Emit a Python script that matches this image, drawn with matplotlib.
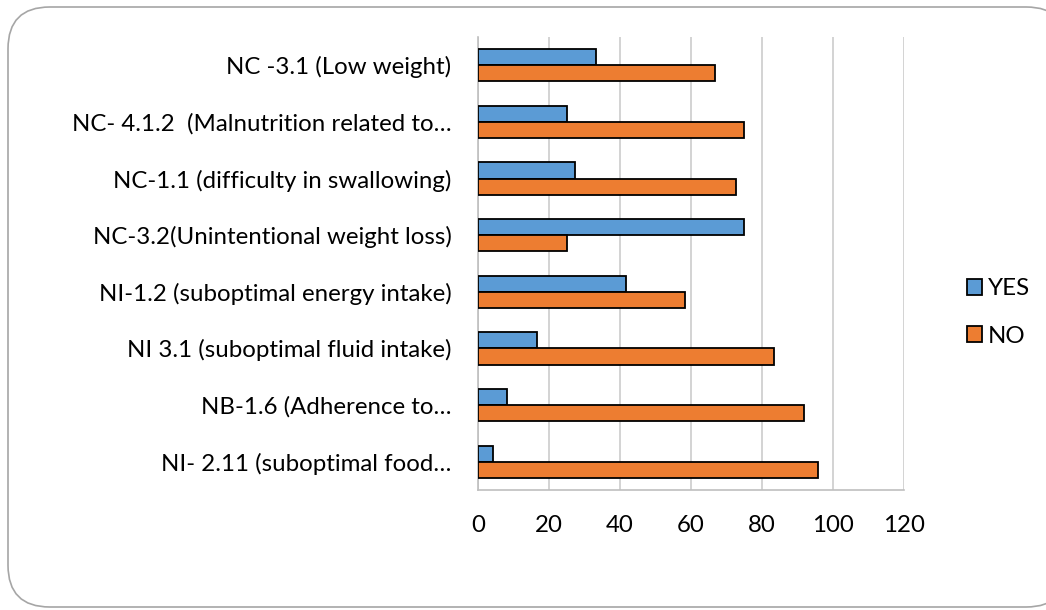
import numpy as np
import matplotlib
matplotlib.use('Agg')
import matplotlib.pyplot as plt
from matplotlib.patches import FancyBboxPatch

# categories, top to bottom as in the chart
categories = ['NC -3.1 (Low weight)',
              'NC- 4.1.2  (Malnutrition related to\u2026',
              'NC-1.1 (difficulty in swallowing)',
              'NC-3.2(Unintentional weight loss)',
              'NI-1.2 (suboptimal energy intake)',
              'NI 3.1 (suboptimal fluid intake)',
              'NB-1.6 (Adherence to\u2026',
              'NI- 2.11 (suboptimal food\u2026']
yes_vals = [33.3, 25.0, 27.3, 75.0, 41.7, 16.7, 8.3, 4.2]
no_vals = [66.7, 75.0, 72.7, 25.0, 58.3, 83.3, 91.7, 95.8]
x_ticks = [0, 20, 40, 60, 80, 100, 120]

plt.rcParams['font.family'] = ['Lato', 'DejaVu Sans']
FS = 17.3

W, H = 1046, 610
fig = plt.figure(figsize=(W/100, H/100), dpi=100)
# rounded outer border (runs off the right edge in the original)
border = FancyBboxPatch((8/W, 1 - 607/H), 1060/W, 600/H, boxstyle='round,pad=0,rounding_size=0.04',
                        transform=fig.transFigure, facecolor='white', edgecolor='#a6a6a6',
                        linewidth=1.2, mutation_aspect=W/H, zorder=-5)
fig.add_artist(border)

ax = fig.add_axes([478/W, 1 - 490/H, (904-478)/W, (490-37)/H])
ax.set_zorder(2)
ax.set_facecolor('none')

n = len(categories)
pos = np.arange(n)[::-1]
h = 0.285
ax.barh(pos + h/2, yes_vals, height=h, color='#5b9bd5', edgecolor='black', linewidth=1.3, label='YES', zorder=3)
ax.barh(pos - h/2, no_vals, height=h, color='#ed7d31', edgecolor='black', linewidth=1.3, label='NO', zorder=3)

ax.set_xlim(0, 120)
ax.set_ylim(-0.5, n - 0.5)
ax.set_xticks(x_ticks)
ax.set_yticks(pos)
ax.set_yticklabels(categories)
ax.tick_params(axis='both', length=0, labelsize=FS)
ax.tick_params(axis='x', pad=18)
ax.tick_params(axis='y', pad=19)
ax.grid(axis='x', color='#d0d0d0', linewidth=1.3, zorder=0)
for s in ['top', 'right']:
    ax.spines[s].set_visible(False)
ax.spines['left'].set_color('#bfbfbf')
ax.spines['bottom'].set_color('#bfbfbf')
ax.spines['left'].set_linewidth(1.2)
ax.spines['bottom'].set_linewidth(1.2)

fig.legend(*ax.get_legend_handles_labels(), loc='center left', bbox_to_anchor=(945/W, 1 - 312.5/H),
           frameon=False, fontsize=FS, handlelength=0.62, handleheight=0.62,
           handletextpad=0.25, labelspacing=1.1)

fig.savefig('out.png', dpi=100)
